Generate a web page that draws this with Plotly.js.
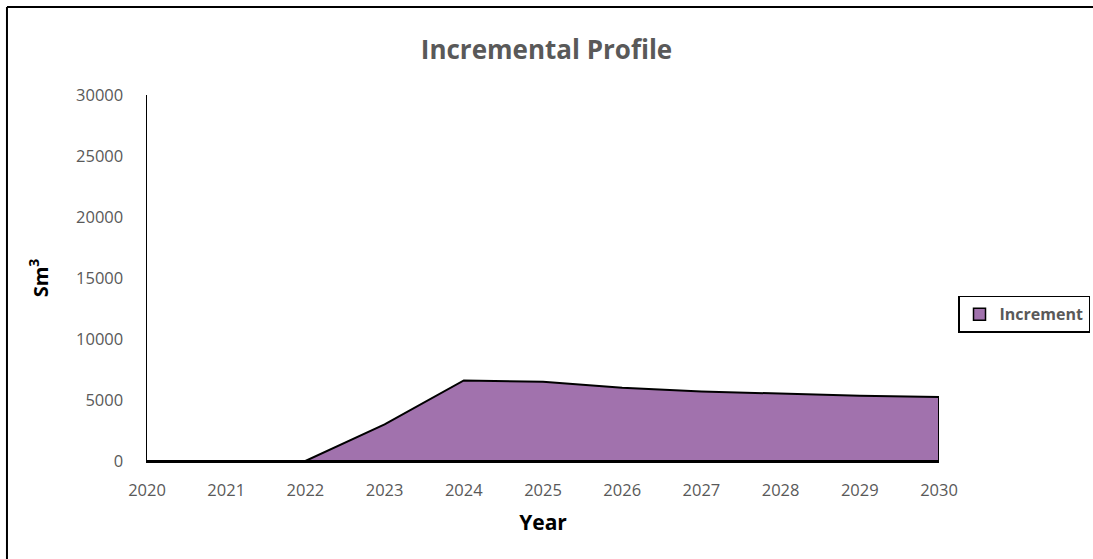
<!DOCTYPE html>
<html>
<head>
<meta charset="utf-8">
<script src="https://cdn.plot.ly/plotly-3.0.1.min.js"></script>
<style>
  html, body { margin: 0; padding: 0; background: #fff; overflow: hidden; }
  #chart { width: 1093px; height: 559px; }
</style>
</head>
<body>
<div id="chart"></div>
<script>
const years = [2020, 2021, 2022, 2023, 2024, 2025, 2026, 2027, 2028, 2029, 2030];
const increment = [0, 0, 0, 3000, 6600, 6500, 6000, 5700, 5500, 5350, 5250];
const yTicks = [0, 5000, 10000, 15000, 20000, 25000, 30000];

const AREA = '#A172AD';

// closed outline of the area (down to the baseline at the ends)
const xs = years.concat([years[years.length - 1], years[0]]);
const ys = increment.concat([0, 0]);

const area = {
  x: xs, y: ys, type: 'scatter', mode: 'lines', name: 'Increment',
  fill: 'toself', fillcolor: AREA, showlegend: false,
  line: { color: '#000', width: 2 }, hoverinfo: 'x+y'
};
// legend entry drawn as a square swatch, like the reference
const legendKey = {
  x: [null], y: [null], type: 'bar', name: 'Increment',
  marker: { color: AREA, line: { color: '#000', width: 1.5 } }, showlegend: true
};

const layout = {
  width: 1093, height: 559,
  margin: { l: 147, r: 154, t: 95, b: 98, autoexpand: false },
  paper_bgcolor: '#fff', plot_bgcolor: '#fff',
  font: { family: 'Open Sans, sans-serif', color: '#595959' },
  title: { text: 'Incremental Profile', x: 0.5, xanchor: 'center', y: 0.91, yanchor: 'middle',
           font: { size: 26, color: '#595959', family: 'Open Sans, sans-serif', weight: 'bold' } },
  xaxis: {
    range: [years[0], years[years.length - 1]], tickvals: years, ticktext: years.map(String),
    showgrid: false, zeroline: false, showline: true, linecolor: '#000', linewidth: 2,
    ticks: '', ticklabelstandoff: 13, tickfont: { size: 16.5, color: '#595959' },
    title: { text: 'Year', standoff: 16, font: { size: 21, color: '#000', weight: 'bold' } }
  },
  yaxis: {
    range: [0, 30000], tickvals: yTicks, ticktext: yTicks.map(String),
    showgrid: false, zeroline: false, showline: true, linecolor: '#000', linewidth: 1.5,
    ticks: '', ticklabelstandoff: 19, tickfont: { size: 16.5, color: '#595959' },
    title: { text: 'Sm<sup>3</sup>', standoff: 22, font: { size: 20, color: '#000', weight: 'bold' } }
  },
  showlegend: true,
  legend: {
    x: 1.024, xanchor: 'left', y: 0.401, yanchor: 'middle',
    bordercolor: '#000', borderwidth: 1.5, bgcolor: '#fff',
    itemwidth: 30, tracegroupgap: 0,
    font: { size: 16, color: '#595959', weight: 'bold' }
  },
  shapes: [
    // outer chart frame: left and top edges
    { type: 'line', xref: 'paper', yref: 'paper', x0: -0.1768, x1: -0.1768, y0: -0.6, y1: 1.2404,
      line: { color: '#000', width: 2 }, layer: 'above' },
    { type: 'line', xref: 'paper', yref: 'paper', x0: -0.1768, x1: 1.5, y0: 1.2404, y1: 1.2404,
      line: { color: '#000', width: 2 }, layer: 'above' }
  ]
};

Plotly.newPlot('chart', [area, legendKey], layout, { displayModeBar: false, staticPlot: true });
</script>
</body>
</html>
